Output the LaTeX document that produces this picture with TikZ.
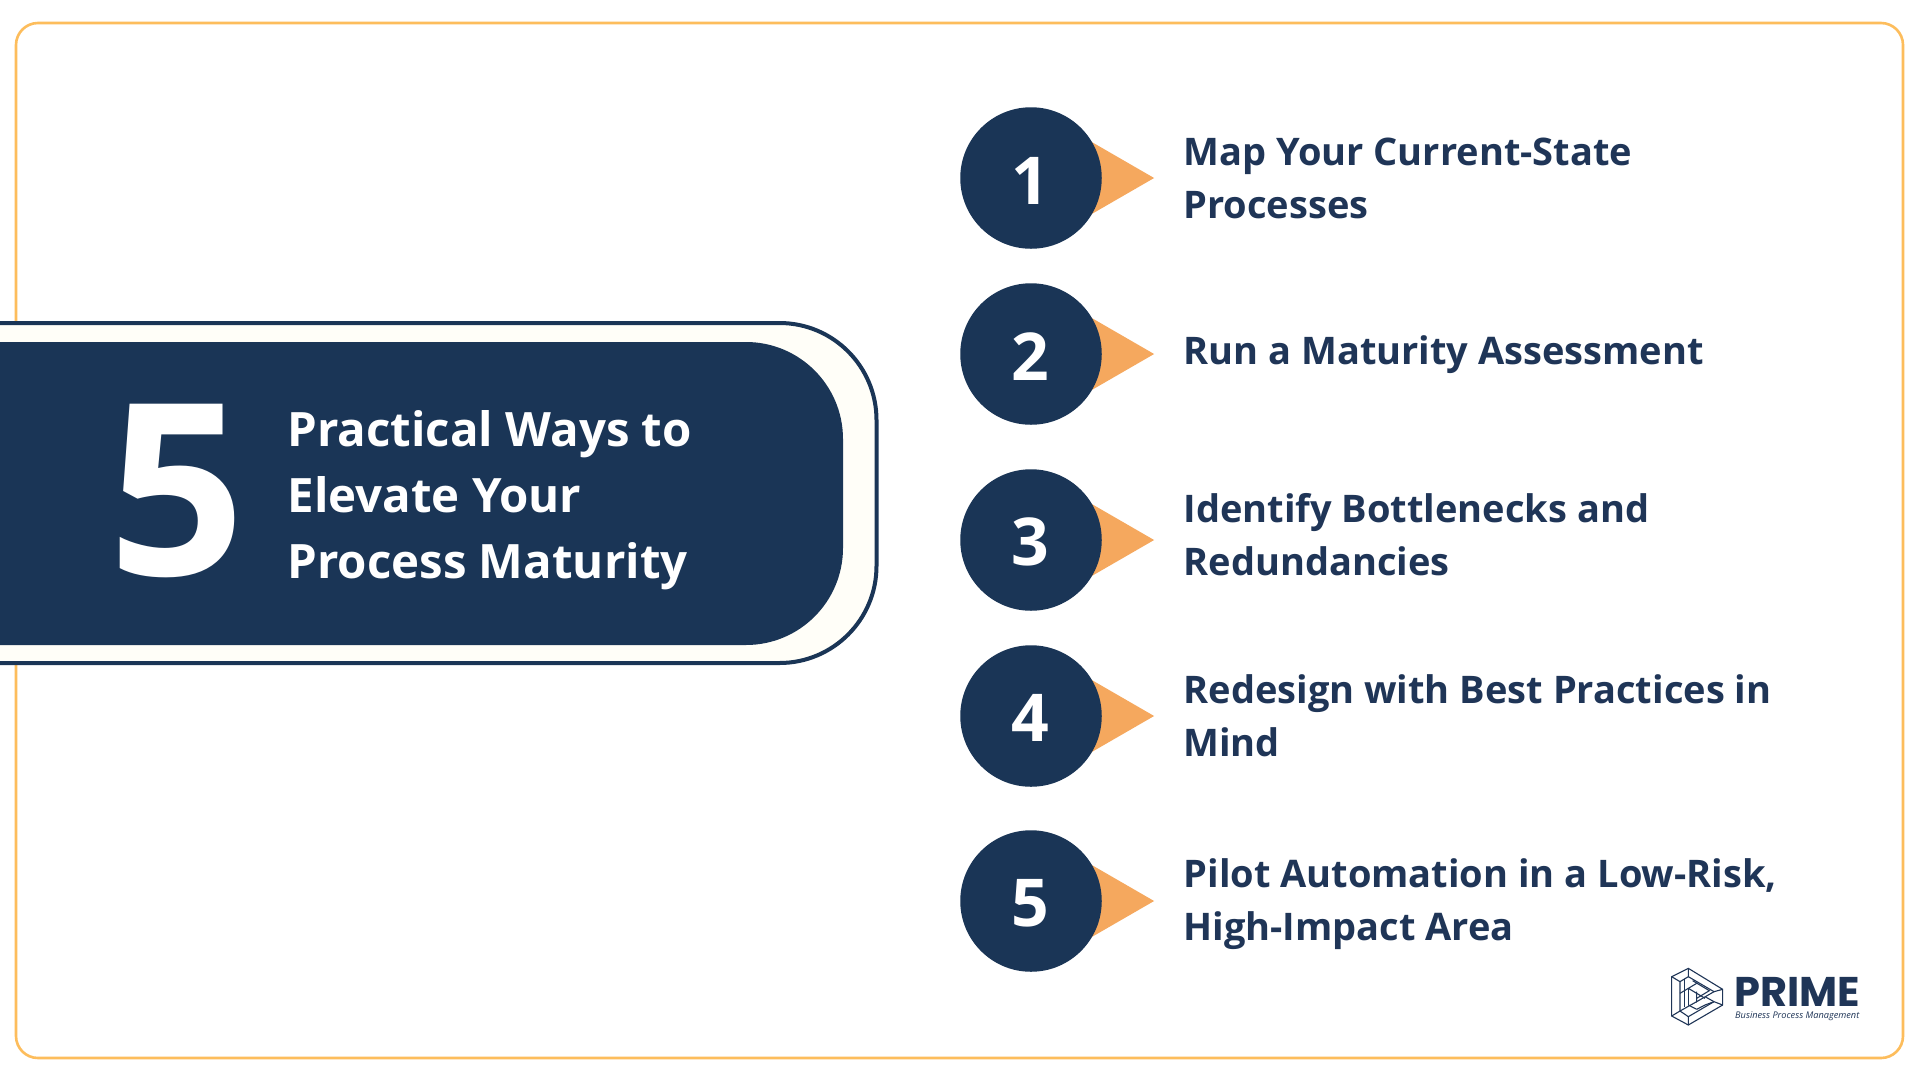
\documentclass[tikz,border=0pt]{standalone}
\usepackage{fontspec}
\setmainfont{Open Sans}
\newfontfamily\logofont{Poppins}
\usetikzlibrary{shapes.geometric}
\definecolor{navy}{HTML}{1A3556}
\definecolor{inktext}{HTML}{1F3557}
\definecolor{peach}{HTML}{F5A85E}
\definecolor{framecol}{HTML}{FDBD5C}
\definecolor{cream}{HTML}{FFFEF8}
\tikzset{num/.style={circle,fill=navy,minimum size=141.5pt,inner sep=0pt}}
\tikzset{numtext/.style={text=white,inner sep=0pt,font=\fontsize{66}{66}\selectfont\bfseries}}
\tikzset{tip/.style={fill=peach,isosceles triangle,isosceles triangle apex angle=60,inner sep=0pt,minimum width=108pt,minimum height=94pt,anchor=apex}}
\tikzset{item/.style={anchor=west,align=left,text=inktext,font=\fontsize{38}{53}\selectfont\bfseries}}
\tikzset{logoline/.style={draw=inktext,line width=1.1pt,line join=miter}}
\begin{document}
\begin{tikzpicture}[x=1pt,y=-1pt]
    \useasboundingbox (0,0) rectangle (1920,1080);
    \fill[white] (0,0) rectangle (1920,1080);
    \draw[framecol,line width=2.6pt,rounded corners=22pt] (16,23) rectangle (1903,1058);
    \draw[navy,line width=4pt,fill=cream,rounded corners=97pt] (-120,323) rectangle (876.5,663);
    \fill[navy,rounded corners=97pt] (-120,342) rectangle (843,645);
    \node[text=white,font=\fontsize{240}{240}\selectfont\bfseries] (big) at (176.5,491) {5};
    \node[anchor=west,align=left,text=white,font=\fontsize{47.4}{66}\selectfont\bfseries] (title) at (284,500) {Practical Ways to\\Elevate Your\\Process Maturity};
    \node[tip] (T1) at (1154.5,178) {};
    \node[tip] (T2) at (1154.5,354) {};
    \node[tip] (T3) at (1154.5,540) {};
    \node[tip] (T4) at (1154.5,716) {};
    \node[tip] (T5) at (1154.5,901) {};
    \node[num] (C1) at (1031,178) {};
    \node[num] (C2) at (1031,354) {};
    \node[num] (C3) at (1031,540) {};
    \node[num] (C4) at (1031,716) {};
    \node[num] (C5) at (1031,901) {};
    \node[numtext] (N1) at (1030.5,181) {1};
    \node[numtext] (N2) at (1030.5,357) {2};
    \node[numtext] (N3) at (1030.5,541.5) {3};
    \node[numtext] (N4) at (1030.5,718) {4};
    \node[numtext] (N5) at (1030.5,903.5) {5};
    \node[item] (L1) at (1180,178.5) {Map Your Current-State\\Processes};
    \node[item] (L2) at (1180,354.5) {Run a Maturity Assessment};
    \node[item] (L3) at (1180,535) {Identify Bottlenecks and\\Redundancies};
    \node[item] (L4) at (1180,716) {Redesign with Best Practices in\\Mind};
    \node[item] (L5) at (1180,904.5) {Pilot Automation in a Low-Risk,\\High-Impact Area};
    \begin{scope}[shift={(1640,950)},x=.3333pt,y=-.3333pt]
      \draw[logoline] (95,80) -- (145,55) -- (248,118) -- (248,165) -- (145,225) -- (95,198) -- cycle;
      \draw[logoline] (95,80) -- (120,95) -- (120,183) -- (95,198);
      \draw[logoline] (120,95) -- (145,80) -- (145,55);
      \draw[logoline] (145,80) -- (222,125) -- (248,118);
      \draw[logoline] (222,125) -- (170,155) -- (170,125);
      \draw[logoline] (120,130) -- (170,100);
      \draw[logoline] (133,88) -- (133,172);
      \draw[logoline] (120,183) -- (170,155);
      \draw[logoline] (145,225) -- (145,200) -- (222,155) -- (248,165);
      \draw[logoline] (222,155) -- (195,140);
      \draw[logoline] (145,200) -- (120,183);
      \draw[logoline] (170,178) -- (195,165) -- (222,155);
      \draw[logoline] (145,115) -- (195,145);
      \draw[logoline] (158,92) -- (208,122) -- (170,145);
      \draw[logoline] (145,115) -- (145,165);
      \draw[logoline] (170,178) -- (145,165);
    \end{scope}
    \node[anchor=base west,inner sep=0pt,text=inktext,font=\logofont\fontsize{41.5}{41.5}\selectfont\bfseries] (prime) at (1734,1006) {PRIME};
    \node[anchor=base west,inner sep=0pt,text=inktext,font=\fontsize{9.2}{9}\selectfont\itshape] (sub) at (1735,1018) {Business Process Management};
\end{tikzpicture}
\end{document}
